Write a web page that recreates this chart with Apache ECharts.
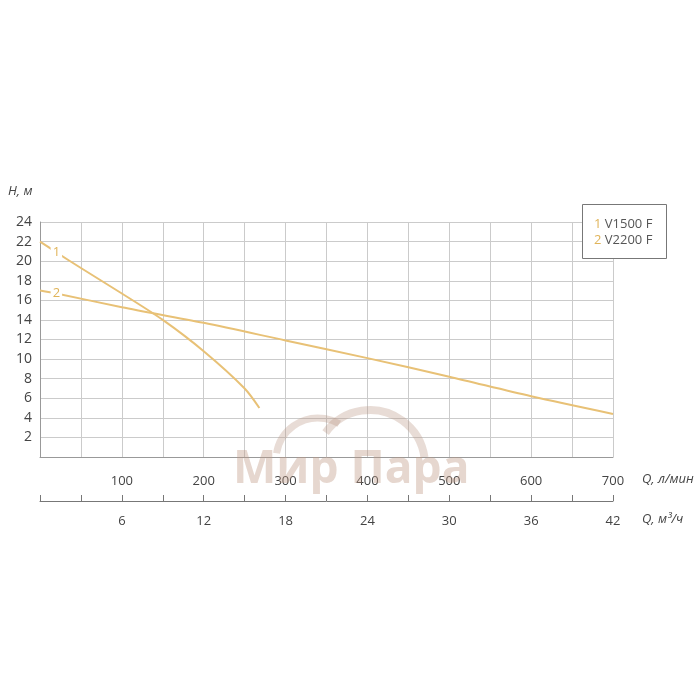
<!DOCTYPE html>
<html>
<head>
<meta charset="utf-8">
<script src="https://cdn.jsdelivr.net/npm/echarts@6/dist/echarts.min.js"></script>
<style>html,body{margin:0;padding:0;background:#fff;}#c{width:700px;height:700px;}</style>
</head>
<body>
<div id="c"></div>
<script>
// Data
const flowLmin1 = [0, 20, 50, 100, 150, 200, 250, 268];
const head1     = [22, 20.9, 19.3, 16.7, 14.0, 10.8, 7.0, 5.0];
const flowLmin2 = [0, 20, 100, 200, 300, 400, 500, 600, 700];
const head2     = [17, 16.7, 15.3, 13.7, 11.9, 10.1, 8.2, 6.2, 4.4];
const seriesNames = ['V1500 F', 'V2200 F'];
const seriesTags = ['1', '2'];
const labelIndex = 1;

const gold = '#E8C176';
const font = 'Open Sans';

function buildData(xs, ys, tag) {
  return xs.map((x, i) => {
    if (i === labelIndex) {
      return {
        value: [x, ys[i]],
        symbol: 'circle', symbolSize: 1,
        itemStyle: { color: gold },
        label: {
          show: true, position: 'inside', formatter: tag,
          color: '#E0B45A', fontSize: 13, fontFamily: font,
          backgroundColor: '#fff', padding: [0, 2]
        }
      };
    }
    return { value: [x, ys[i]], symbol: 'none' };
  });
}

const chart = echarts.init(document.getElementById('c'));
chart.setOption({
  backgroundColor: '#fff',
  animation: false,
  grid: [
    { left: 40, right: 87, top: 222, height: 235 },
    { left: 40, right: 87, top: 500, height: 1 }
  ],
  xAxis: [
    {
      gridIndex: 0, type: 'value', min: 0, max: 700, interval: 50,
      axisLine: { show: true, lineStyle: { color: '#999', width: 1 } },
      axisTick: { show: false },
      axisLabel: {
        margin: 18, color: '#444', fontSize: 13, fontFamily: font,
        formatter: v => (v > 0 && v % 100 === 0) ? String(v) : ''
      },
      splitLine: { show: true, lineStyle: { color: '#cbcbcb', width: 1 } }
    },
    {
      gridIndex: 1, type: 'value', min: 0, max: 42, interval: 3, position: 'bottom',
      axisLine: { show: true, lineStyle: { color: '#777', width: 1 } },
      axisTick: { show: true, inside: true, length: 6, lineStyle: { color: '#777' } },
      axisLabel: {
        margin: 14, color: '#444', fontSize: 13, fontFamily: font,
        formatter: v => (v > 0 && v % 6 === 0) ? String(v) : ''
      },
      splitLine: { show: false }
    }
  ],
  yAxis: [
    {
      gridIndex: 0, type: 'value', min: 0, max: 24, interval: 2,
      axisLine: { show: true, lineStyle: { color: '#999', width: 1 } },
      axisTick: { show: false },
      axisLabel: {
        margin: 8, color: '#444', fontSize: 14, fontFamily: font,
        formatter: v => v > 0 ? String(v) : ''
      },
      splitLine: { show: true, lineStyle: { color: '#cbcbcb', width: 1 } }
    },
    { gridIndex: 1, type: 'value', show: false }
  ],
  series: [
    {
      name: seriesNames[0], type: 'line', xAxisIndex: 0, yAxisIndex: 0,
      smooth: 0.3, showSymbol: true, lineStyle: { color: gold, width: 2 },
      data: buildData(flowLmin1, head1, seriesTags[0])
    },
    {
      name: seriesNames[1], type: 'line', xAxisIndex: 0, yAxisIndex: 0,
      smooth: 0.3, showSymbol: true, lineStyle: { color: gold, width: 2 },
      data: buildData(flowLmin2, head2, seriesTags[1])
    }
  ],
  graphic: [
    { type: 'text', left: 8, top: 185,
      style: { text: 'H, м', fill: '#444', font: 'italic 13px "Open Sans"' } },
    { type: 'text', left: 642, top: 473,
      style: { text: 'Q, л/мин', fill: '#444', font: 'italic 13px "Open Sans"' } },
    { type: 'text', left: 642, top: 513,
      style: { text: 'Q, м³/ч', fill: '#444', font: 'italic 13px "Open Sans"' } },
    { type: 'rect', z: 50, shape: { x: 582.5, y: 204.5, width: 84, height: 54 },
      style: { fill: '#fff', stroke: '#777', lineWidth: 1 } },
    { type: 'text', z: 51, x: 594, y: 216,
      style: {
        text: '{n|' + seriesTags[0] + '} {t|' + seriesNames[0] + '}\n{n|' + seriesTags[1] + '} {t|' + seriesNames[1] + '}',
        rich: {
          n: { fill: '#E0B45A', font: '13px "Open Sans"', lineHeight: 16 },
          t: { fill: '#555', font: '13px "Open Sans"', lineHeight: 16 }
        }
      } },
    // watermark
    { type: 'arc', z: 100, shape: { cx: 318, cy: 460, r: 42, startAngle: -2.98, endAngle: -1.04, clockwise: true },
      style: { stroke: 'rgba(185,150,130,0.33)', lineWidth: 7, fill: null } },
    { type: 'arc', z: 100, shape: { cx: 370, cy: 465, r: 55, startAngle: -2.51, endAngle: -0.14, clockwise: true },
      style: { stroke: 'rgba(185,150,130,0.33)', lineWidth: 8, fill: null } },
    { type: 'text', z: 100, left: 233, top: 447,
      style: { text: 'Мир Пара', fill: 'rgba(190,150,130,0.38)', font: 'bold 46px "Open Sans"' } }
  ]
});
</script>
</body>
</html>
